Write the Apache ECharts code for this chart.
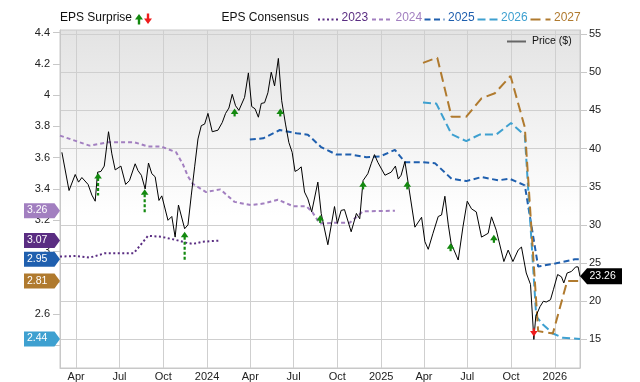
<!DOCTYPE html>
<html><head><meta charset="utf-8">
<script src="https://cdn.jsdelivr.net/npm/echarts@6/dist/echarts.min.js"></script>
<style>html,body{margin:0;padding:0;background:#fff}#c{width:640px;height:382px}</style>
</head><body><div id="c"></div>
<script>
// ---------- DATA ----------
const xTickDates = ['2023-04-01','2023-07-01','2023-10-01','2024-01-01','2024-04-01','2024-07-01','2024-10-01','2025-01-01','2025-04-01','2025-07-01','2025-10-01','2026-01-01'];
const xTickLabels = ['Apr','Jul','Oct','2024','Apr','Jul','Oct','2025','Apr','Jul','Oct','2026'];
const epsTicks = [2.4,2.6,2.8,3,3.2,3.4,3.6,3.8,4,4.2,4.4];
const epsTickLabels = [2.6,2.8,3,3.2,3.4,3.6,3.8,4,4.2,4.4];
const priceTicks = [15,20,25,30,35,40,45,50,55];

const priceDates = ['2023-03-02','2023-03-17','2023-03-30','2023-04-06','2023-04-13','2023-04-26','2023-05-04','2023-05-11','2023-05-16','2023-05-23','2023-05-30','2023-06-08','2023-06-15','2023-06-22','2023-07-04','2023-07-14','2023-07-22','2023-08-03','2023-08-09','2023-08-16','2023-08-24','2023-08-31','2023-09-07','2023-09-14','2023-09-22','2023-09-28','2023-10-11','2023-10-19','2023-10-26','2023-11-02','2023-11-15','2023-11-22','2023-11-29','2023-12-06','2023-12-13','2023-12-20','2023-12-27','2024-01-03','2024-01-12','2024-01-24','2024-02-02','2024-02-09','2024-02-16','2024-02-23','2024-03-01','2024-03-08','2024-03-20','2024-03-28','2024-04-04','2024-04-11','2024-04-18','2024-04-24','2024-05-01','2024-05-08','2024-05-15','2024-05-22','2024-05-30','2024-06-06','2024-06-14','2024-06-21','2024-06-28','2024-07-04','2024-07-10','2024-07-17','2024-07-24','2024-07-31','2024-08-08','2024-08-21','2024-08-28','2024-09-11','2024-09-25','2024-10-01','2024-10-09','2024-10-16','2024-10-30','2024-11-10','2024-11-17','2024-11-24','2024-12-04','2024-12-11','2024-12-18','2024-12-25','2025-01-09','2025-01-22','2025-01-31','2025-02-06','2025-02-12','2025-02-20','2025-02-27','2025-03-13','2025-03-27','2025-04-03','2025-04-10','2025-04-20','2025-05-01','2025-05-08','2025-05-15','2025-05-22','2025-05-28','2025-06-12','2025-06-22','2025-07-01','2025-07-10','2025-07-20','2025-07-31','2025-08-14','2025-08-21','2025-08-31','2025-09-16','2025-09-25','2025-10-05','2025-10-16','2025-10-23','2025-11-02','2025-11-11','2025-11-18','2025-11-22','2025-12-01','2025-12-08','2025-12-14','2025-12-23','2025-12-29','2026-01-07','2026-01-15','2026-01-20','2026-01-27','2026-02-05','2026-02-14','2026-02-19','2026-02-23'];
const priceValues = [39.5,34.5,36.6,35.6,36.2,35.3,33.9,33.1,36.9,37.0,37.7,42.2,39.3,37.2,37.7,35.3,35.8,38.0,37.1,36.5,34.7,38.1,36.7,36.3,33.2,33.8,30.6,31.1,28.4,32.6,29.5,30.0,33.9,37.6,41.25,43.0,43.2,44.6,42.2,42.4,43.4,44.6,45.3,47.1,45.6,45.0,46.7,49.9,45.5,45.2,44.1,45.9,46.0,47.3,50.0,48.2,51.8,46.25,43.2,40.8,39.5,37.0,37.2,37.6,34.3,33.4,31.7,35.6,31.5,27.4,32.4,30.2,31.9,32.0,29.1,31.5,30.8,35.8,36.7,38.0,39.2,38.2,36.5,36.9,37.7,36.0,36.5,38.3,35.4,29.7,31.0,27.8,26.8,28.9,31.1,31.3,33.75,30.1,27.6,25.4,29.75,33.1,32.1,31.7,28.4,28.9,31.05,29.3,25.2,26.7,25.2,26.7,27.1,23.7,22.2,15.0,18.0,19.3,20.0,19.9,20.2,21.5,23.5,23.2,22.4,23.7,23.9,24.5,24.5,23.26];

const eps2023Dates = ['2023-02-26','2023-04-01','2023-04-29','2023-05-31','2023-07-31','2023-08-30','2023-09-27','2023-10-28','2023-11-18','2023-12-02','2023-12-23','2024-01-30'];
const eps2023Values = [2.967,2.971,2.96,2.988,2.988,3.10,3.094,3.073,3.056,3.048,3.062,3.07];

const eps2024Dates = ['2023-02-26','2023-04-29','2023-06-06','2023-08-02','2023-08-30','2023-09-27','2023-10-28','2023-11-11','2023-11-22','2023-12-02','2023-12-30','2024-01-29','2024-02-28','2024-04-03','2024-04-28','2024-05-29','2024-06-30','2024-07-28','2024-08-09','2024-08-25','2024-09-25','2024-10-27','2024-11-24','2025-01-30'];
const eps2024Values = [3.741,3.677,3.698,3.698,3.671,3.671,3.635,3.56,3.48,3.433,3.38,3.397,3.317,3.296,3.306,3.331,3.289,3.289,3.253,3.179,3.183,3.183,3.257,3.26];

const eps2025Dates = ['2024-03-31','2024-04-28','2024-06-02','2024-07-07','2024-07-31','2024-08-28','2024-09-29','2024-10-30','2024-12-01','2024-12-29','2025-01-30','2025-02-20','2025-03-27','2025-04-24','2025-05-29','2025-06-29','2025-07-31','2025-09-04','2025-09-28','2025-10-30','2025-11-27','2026-01-04','2026-02-12','2026-02-23'];
const eps2025Values = [3.716,3.724,3.777,3.756,3.747,3.667,3.62,3.62,3.603,3.607,3.65,3.571,3.571,3.565,3.465,3.45,3.476,3.455,3.465,3.423,2.903,2.924,2.95,2.95];

const eps2026Dates = ['2025-03-30','2025-04-27','2025-05-29','2025-06-29','2025-07-27','2025-08-31','2025-10-01','2025-10-30','2025-11-23','2025-12-07','2025-12-28','2026-01-18','2026-02-23'];
const eps2026Values = [3.953,3.946,3.75,3.706,3.748,3.748,3.822,3.742,2.585,2.532,2.475,2.447,2.44];

const eps2027Dates = ['2025-03-30','2025-04-29','2025-05-29','2025-06-29','2025-07-31','2025-08-28','2025-09-30','2025-10-30','2025-11-27','2025-12-28','2026-01-27','2026-02-23'];
const eps2027Values = [4.207,4.24,3.862,3.862,3.98,4.012,4.123,3.794,2.49,2.475,2.81,2.81];

const surpriseDates = ['2023-05-17','2023-08-23','2023-11-15','2024-02-28','2024-06-03','2024-08-26','2024-11-24','2025-02-25','2025-05-27','2025-08-26','2025-11-18'];
const surprisePrices = [36.8,34.66,29.1,45.25,45.25,31.3,35.7,35.7,27.6,28.7,15.4];
const surpriseSizes = [17,18,23,4,4,3,3,3,3,3,-4];

const yearNames = ['2023','2024','2025','2026','2027'];
const xMinDate = '2023-02-26', xMaxDate = '2026-02-23';
// ---------- STYLE ----------
const FONT = '"Liberation Sans", Arial, sans-serif';
const colors = {'2023':'#5a2d82','2024':'#a27fc0','2025':'#1f5fae','2026':'#3ea0d0','2027':'#b07a2e'};
const dashes = {'2023':[2,2.5],'2024':[4,3],'2025':[6,3.5],'2026':[8,4],'2027':[10,5]};
const GREEN = '#13890f', RED = '#ee1c1c';

const T = s => Date.parse(s); // UTC ms
function zip(d, v){ return d.map((x,i)=>[T(x), v[i]]); }
const epsSets = {'2023':[eps2023Dates,eps2023Values],'2024':[eps2024Dates,eps2024Values],'2025':[eps2025Dates,eps2025Values],'2026':[eps2026Dates,eps2026Values],'2027':[eps2027Dates,eps2027Values]};

const chart = echarts.init(document.getElementById('c'), null, {renderer:'canvas'});
const xTickValues = xTickDates.map(T);
const labelMap = {};
xTickValues.forEach((t,i)=>{ labelMap[t] = xTickLabels[i]; });

const series = [];
yearNames.forEach(y=>{
  series.push({name:y, type:'line', yAxisIndex:0, symbol:'none', silent:true, z:2,
    data: zip(epsSets[y][0], epsSets[y][1]),
    lineStyle:{color:colors[y], width:2, type:dashes[y], cap:'butt'}});
});
series.push({name:'Price ($)', type:'line', yAxisIndex:1, symbol:'none', silent:true, z:3,
  data: zip(priceDates, priceValues), lineStyle:{color:'#000', width:1}});
series.push({name:'EPS Surprise', type:'custom', yAxisIndex:1, z:4, silent:true,
  data: surpriseDates.map((d,i)=>[T(d), surprisePrices[i], surpriseSizes[i]]),
  renderItem: function(params, api){
    const p = api.coord([api.value(0), api.value(1)]);
    const s = api.value(2); const up = s > 0; const len = Math.abs(s);
    const col = up ? GREEN : RED; const hh = 5.5, hw = 3.8; const x = p[0], y = p[1];
    const dir = up ? 1 : -1;
    return {type:'group', children:[
      {type:'line', shape:{x1:x, y1:y+dir*(hh-0.5), x2:x, y2:y+dir*(hh+len)}, style:{stroke:col, lineWidth:2.2, lineDash:[3,2]}},
      {type:'polygon', shape:{points:[[x,y],[x-hw,y+dir*hh],[x+hw,y+dir*hh]]}, style:{fill:col}}
    ]};
  }});

const option = {
  animation:false,
  textStyle:{fontFamily:FONT},
  grid:{left:60, top:30, width:520, height:340, show:true, borderColor:'#c8c8c8', borderWidth:1,
    backgroundColor:{type:'linear', x:0, y:0, x2:0, y2:1, colorStops:[{offset:0,color:'#e3e3e3'},{offset:0.55,color:'#ffffff'},{offset:1,color:'#ffffff'}]}},
  xAxis:{type:'value', min:T(xMinDate), max:T(xMaxDate),
    axisLine:{show:true, lineStyle:{color:'#c8c8c8'}},
    axisTick:{show:false, customValues:xTickValues},
    axisLabel:{customValues:xTickValues, color:'#222', fontSize:11, fontFamily:FONT, margin:3,
      formatter:function(v){ return labelMap[v] || ''; }},
    splitLine:{show:true, lineStyle:{color:'#cfcfcf', width:1}}},
  yAxis:[
    {type:'value', position:'left', min:2.254, max:4.417,
      axisLine:{show:true, lineStyle:{color:'#c8c8c8'}},
      axisTick:{show:true, length:7, customValues:epsTicks, lineStyle:{color:'#c8c8c8'}},
      axisLabel:{customValues:epsTickLabels, color:'#222', fontSize:11, fontFamily:FONT, margin:10,
        formatter:function(v){ return String(Math.round(v*10)/10); }},
      splitLine:{show:false}},
    {type:'value', position:'right', min:11.26, max:55.52,
      axisLine:{show:true, lineStyle:{color:'#c8c8c8'}},
      axisTick:{show:true, length:7, customValues:priceTicks, lineStyle:{color:'#c8c8c8'}},
      axisLabel:{customValues:priceTicks, color:'#222', fontSize:11, fontFamily:FONT, margin:9},
      splitLine:{show:true, lineStyle:{color:'#cfcfcf', width:1}}}
  ],
  series: series
};
chart.setOption(option);

// ---------- OVERLAYS (legend + value badges) ----------
const g = [];
const LY = 19;
g.push({type:'text', left:60, top:LY-7, style:{text:'EPS Surprise', fill:'#111', font:'12px '+FONT}});
function arrowIcon(x, up, col){
  const d = up ? 1 : -1;
  const tip = LY - 5*d, base = LY + 0.5*d;
  return {type:'group', children:[
    {type:'polygon', shape:{points:[[x, tip],[x-4, base],[x+4, base]]}, style:{fill:col}},
    {type:'rect', shape:{x:x-1.2, y: up ? LY : LY-5.5, width:2.4, height:5.5}, style:{fill:col}}
  ]};
}
g.push(arrowIcon(139, true, GREEN));
g.push(arrowIcon(148, false, RED));
g.push({type:'text', left:221.5, top:LY-7, style:{text:'EPS Consensus', fill:'#111', font:'12px '+FONT}});
const legX = [318, 372, 424.5, 477.5, 530.5];
yearNames.forEach((y,i)=>{
  g.push({type:'line', shape:{x1:legX[i], y1:LY+0.5, x2:legX[i]+20, y2:LY+0.5}, style:{stroke:colors[y], lineWidth:2, lineDash:dashes[y]}});
  g.push({type:'text', left:legX[i]+23.5, top:LY-7, style:{text:y, fill:colors[y], font:'12px '+FONT}});
});
g.push({type:'line', shape:{x1:507, y1:41.5, x2:526, y2:41.5}, style:{stroke:'#666', lineWidth:2}, z:10});
g.push({type:'text', left:532, top:36, style:{text:'Price ($)', fill:'#111', font:'10.5px '+FONT}, z:10});

// left value badges at each consensus series' latest value
yearNames.forEach(y=>{
  const vals = epsSets[y][1]; const v = vals[vals.length-1];
  const py = chart.convertToPixel({yAxisIndex:0}, v);
  g.push({type:'polygon', z:20, shape:{points:[[24,py-7.5],[54.5,py-7.5],[60,py],[54.5,py+7.5],[24,py+7.5]]}, style:{fill:colors[y]}});
  g.push({type:'text', z:21, left:27, top:py-6, style:{text:v.toFixed(2), fill:'#fff', font:'10.5px '+FONT}});
});
const lastPrice = priceValues[priceValues.length-1];
const ppy = chart.convertToPixel({yAxisIndex:1}, lastPrice);
g.push({type:'polygon', z:20, shape:{points:[[580,ppy],[587,ppy-8],[622,ppy-8],[622,ppy+8],[587,ppy+8]]}, style:{fill:'#000'}});
g.push({type:'text', z:21, left:589.5, top:ppy-6, style:{text:lastPrice.toFixed(2), fill:'#fff', font:'10.5px '+FONT}});

chart.setOption({graphic:g});
</script>
</body></html>
